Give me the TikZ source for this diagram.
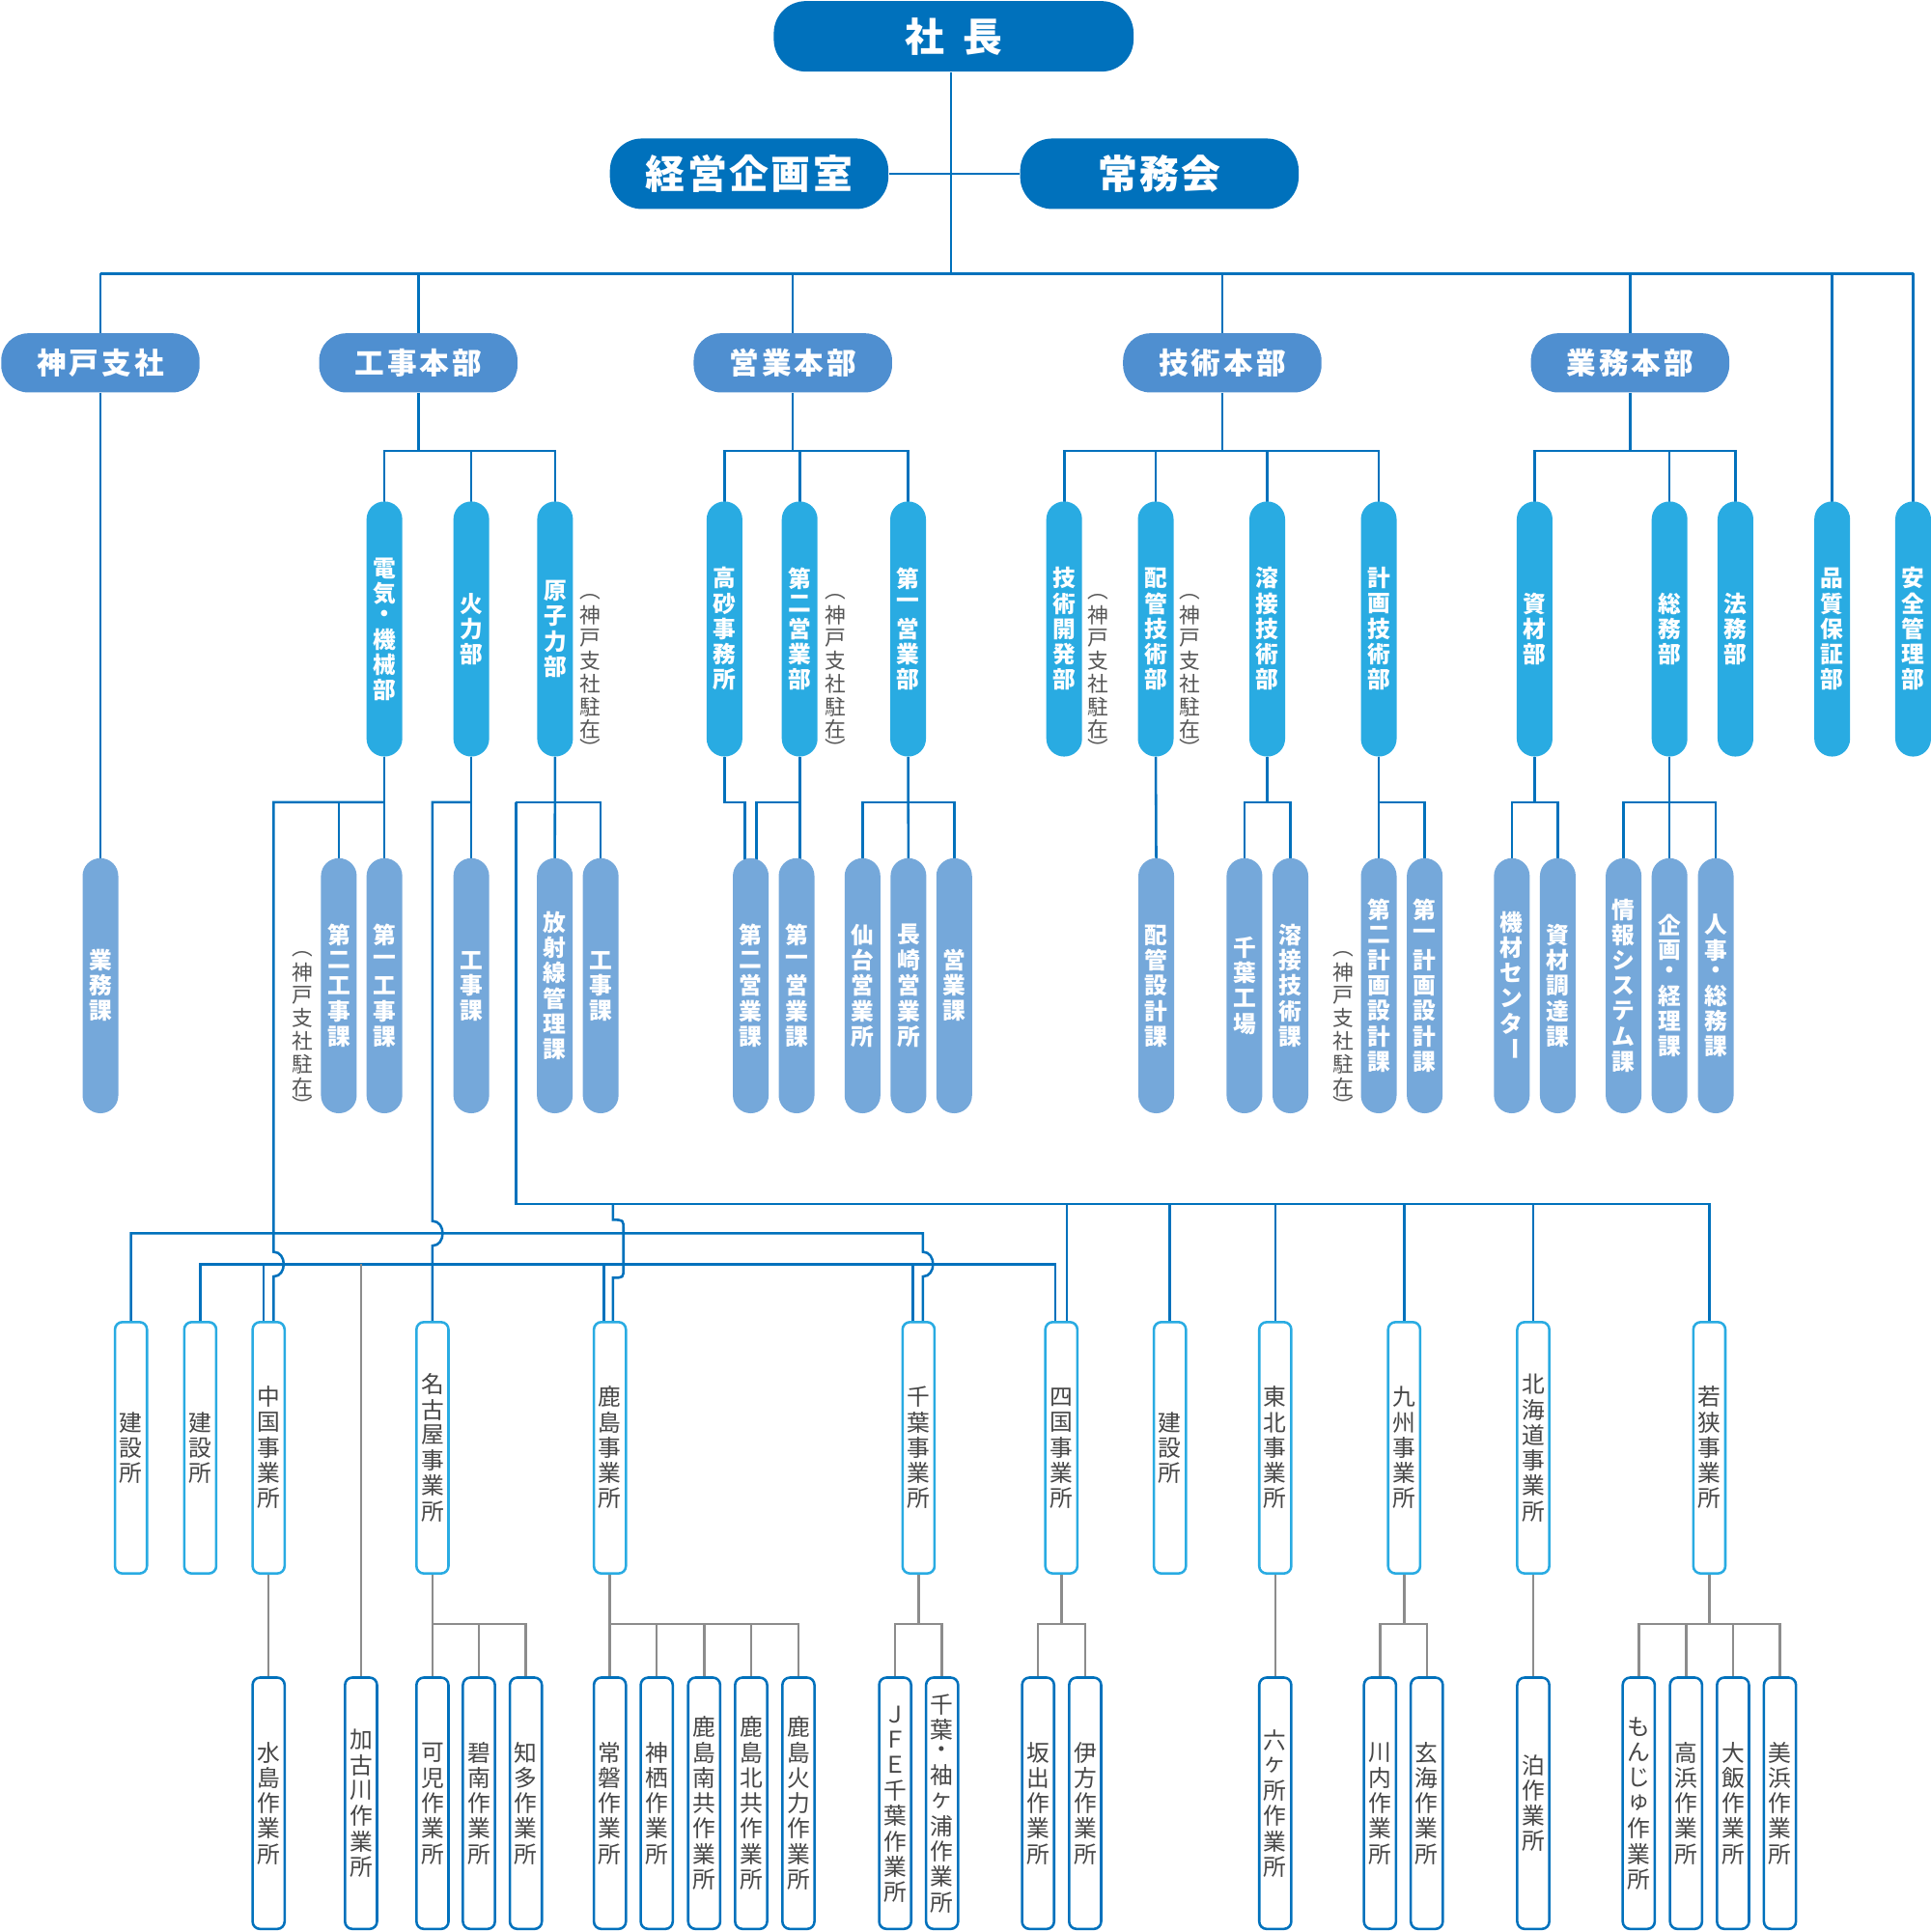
\documentclass[tikz,border=0pt]{standalone}
\usepackage{fontspec}
\setmainfont{Noto Sans CJK JP}
\usepackage{graphicx}
\usetikzlibrary{calc,backgrounds}
\definecolor{cTop}{HTML}{0071BC}
\definecolor{cHQ}{HTML}{4F8FD0}
\definecolor{cDept}{HTML}{29ABE2}
\definecolor{cSect}{HTML}{75A8DA}
\definecolor{cGray}{HTML}{8C8C8C}
\definecolor{cTxt}{HTML}{464646}
\definecolor{cNote}{HTML}{555555}
\makeatletter
\newdimen\vtcellh
\def\vtstop{\vtstop}
\newcommand\myvtext[3]{\vbox{\offinterlineskip\vtcellh=#1\relax\def\vt@small{#2}\vt@loop#3\vtstop}}
\def\vt@loop#1{\ifx\vtstop#1\else\vt@cell{#1}\expandafter\vt@loop\fi}
\def\vt@cell#1{%
  \def\vt@f{1}%
  \ifx・#1\def\vt@f{0.8}\fi
  \ifx︵#1\def\vt@f{\vt@small}\fi
  \ifx︶#1\def\vt@f{\vt@small}\fi
  \vbox to \vt@f\vtcellh{\vss\hbox to 1.3em{\hss#1\hss}\vss}}
\def\hs@loop#1{\ifx\vtstop#1\kern-\hs@gap\else#1\kern\hs@gap\expandafter\hs@loop\fi}
\newcommand\hsp[2]{\def\hs@gap{#1}\hs@loop#2\vtstop}
\makeatother
\newcommand\chouon{\rotatebox[origin=c]{-90}{ー}}
\newcommand\vlab[1]{\myvtext{10.3pt}{0.6}{#1}}
\newcommand\vnote[1]{\myvtext{9.3pt}{0.6}{#1}}
\tikzset{
 topbox/.style={fill=cTop, rounded corners=13pt, minimum width=146pt, minimum height=28.6pt, inner sep=0pt, text=white, font=\fontsize{16}{18}\selectfont\bfseries},
 hqbox/.style={fill=cHQ, rounded corners=11pt, minimum width=80.5pt, minimum height=24pt, inner sep=0pt, text=white, font=\fontsize{12}{14}\selectfont\bfseries},
 deptbox/.style={fill=cDept, rounded corners=7.2pt, minimum width=14.5pt, minimum height=103.5pt, inner sep=0pt, text=white, font=\fontsize{9.3}{10}\selectfont\bfseries},
 sectbox/.style={deptbox, fill=cSect},
 sitebox/.style={draw=cDept, fill=white, line width=1pt, rounded corners=3pt, minimum width=13pt, minimum height=102pt, inner sep=0pt, text=cTxt, font=\fontsize{9.3}{10}\selectfont},
 workbox/.style={sitebox, draw=cTop},
 note/.style={inner sep=0pt, text=cNote, font=\fontsize{8.5}{9}\selectfont},
 conn/.style={draw=cTop, line width=1pt},
 gconn/.style={draw=cGray, line width=1pt},
}
\begin{document}
\begin{tikzpicture}[x=0.5pt,y=-0.5pt]
\useasboundingbox (0,0) rectangle (1567,1568);
% ---- top
\node[topbox] (shacho) at (774,29.5) {社\kern7.5pt長};
\node[topbox, minimum width=113pt] (keiei) at (608,141) {\hsp{1pt}{経営企画室}};
\node[topbox, minimum width=113pt] (jomu) at (941,141) {\hsp{1pt}{常務会}};
% ---- level 2
\node[hqbox] (kobe) at (81.5,294.5) {\hsp{1.2pt}{神戸支社}};
\node[hqbox] (koji) at (339.5,294.5) {\hsp{1.2pt}{工事本部}};
\node[hqbox] (eigyo) at (643.5,294.5) {\hsp{1.2pt}{営業本部}};
\node[hqbox] (gijutsu) at (992,294.5) {\hsp{1.2pt}{技術本部}};
\node[hqbox] (gyomu) at (1323,294.5) {\hsp{1.2pt}{業務本部}};
% ---- level 3
\node[deptbox] (denki) at (312,510.5) {\vlab{電気・機械部}};
\node[deptbox] (karyoku) at (382.5,510.5) {\vlab{火力部}};
\node[deptbox] (genshi) at (450.5,510.5) {\vlab{原子力部}};
\node[deptbox] (takasago) at (588,510.5) {\vlab{高砂事務所}};
\node[deptbox] (eigyo2) at (649,510.5) {\vlab{第二営業部}};
\node[deptbox] (eigyo1) at (737,510.5) {\vlab{第一営業部}};
\node[deptbox] (kaihatsu) at (863.7,510.5) {\vlab{技術開発部}};
\node[deptbox] (haikan) at (938,510.5) {\vlab{配管技術部}};
\node[deptbox] (yosetsu) at (1028.5,510.5) {\vlab{溶接技術部}};
\node[deptbox] (keikaku) at (1119,510.5) {\vlab{計画技術部}};
\node[deptbox] (shizai) at (1245.5,510.5) {\vlab{資材部}};
\node[deptbox] (somu) at (1355,510.5) {\vlab{総務部}};
\node[deptbox] (homu) at (1408.5,510.5) {\vlab{法務部}};
\node[deptbox] (hinshitsu) at (1487,510.5) {\vlab{品質保証部}};
\node[deptbox] (anzen) at (1552.7,510.5) {\vlab{安全管理部}};
% ---- level 4
\node[sectbox] (gyomuka) at (81.5,800) {\vlab{業務課}};
\node[sectbox] (koji2) at (275,800) {\vlab{第二工事課}};
\node[sectbox] (koji1) at (312,800) {\vlab{第一工事課}};
\node[sectbox] (kojika) at (382.5,800) {\vlab{工事課}};
\node[sectbox] (hosha) at (450.3,800) {\vlab{放射線管理課}};
\node[sectbox] (kojikb) at (487.5,800) {\vlab{工事課}};
\node[sectbox] (eika2) at (609.3,800) {\vlab{第二営業課}};
\node[sectbox] (eika1) at (646.5,800) {\vlab{第一営業課}};
\node[sectbox] (sendai) at (700,800) {\vlab{仙台営業所}};
\node[sectbox] (nagasaki) at (737.3,800) {\vlab{長崎営業所}};
\node[sectbox] (eigyoka) at (774.4,800) {\vlab{営業課}};
\node[sectbox] (haikansekkei) at (938.4,800) {\vlab{配管設計課}};
\node[sectbox] (chibakojo) at (1010,800) {\vlab{千葉工場}};
\node[sectbox] (yosetsuka) at (1047.3,800) {\vlab{溶接技術課}};
\node[sectbox] (keikaku2) at (1119,800) {\vlab{第二計画設計課}};
\node[sectbox] (keikaku1) at (1156.3,800) {\vlab{第一計画設計課}};
\node[sectbox] (kizai) at (1227,800) {\vlab{機材センタ\chouon}};
\node[sectbox] (chotatsu) at (1264.3,800) {\vlab{資材調達課}};
\node[sectbox] (joho) at (1317.7,800) {\vlab{情報システム課}};
\node[sectbox] (kikaku) at (1355,800) {\vlab{企画・経理課}};
\node[sectbox] (jinji) at (1392.5,800) {\vlab{人事・総務課}};
% ---- notes
\node[note, anchor=south] (n1) at (479,613) {\vnote{︵神戸支社駐在︶}};
\node[note, anchor=south] (n2) at (678,613) {\vnote{︵神戸支社駐在︶}};
\node[note, anchor=south] (n3) at (891,613) {\vnote{︵神戸支社駐在︶}};
\node[note, anchor=south] (n4) at (965.5,613) {\vnote{︵神戸支社駐在︶}};
\node[note, anchor=south] (n5) at (245.5,903) {\vnote{︵神戸支社駐在︶}};
\node[note, anchor=south] (n6) at (1090,903) {\vnote{︵神戸支社駐在︶}};
% ---- level 5
\node[sitebox] (ken1) at (106.3,1175) {\vlab{建設所}};
\node[sitebox] (ken2) at (162.5,1175) {\vlab{建設所}};
\node[sitebox] (chugoku) at (218,1175) {\vlab{中国事業所}};
\node[sitebox] (nagoya) at (351,1175) {\vlab{名古屋事業所}};
\node[sitebox] (kashima) at (495,1175) {\vlab{鹿島事業所}};
\node[sitebox] (chiba) at (745.5,1175) {\vlab{千葉事業所}};
\node[sitebox] (shikoku) at (861.4,1175) {\vlab{四国事業所}};
\node[sitebox] (ken3) at (949.5,1175) {\vlab{建設所}};
\node[sitebox] (tohoku) at (1035,1175) {\vlab{東北事業所}};
\node[sitebox] (kyushu) at (1139.6,1175) {\vlab{九州事業所}};
\node[sitebox] (hokkaido) at (1244.4,1175) {\vlab{北海道事業所}};
\node[sitebox] (wakasa) at (1387.3,1175) {\vlab{若狭事業所}};
% ---- level 6
\node[workbox] (mizushima) at (218,1463.5) {\vlab{水島作業所}};
\node[workbox] (kakogawa) at (293,1463.5) {\vlab{加古川作業所}};
\node[workbox] (kani) at (351,1463.5) {\vlab{可児作業所}};
\node[workbox] (hekinan) at (388.7,1463.5) {\vlab{碧南作業所}};
\node[workbox] (chita) at (426.8,1463.5) {\vlab{知多作業所}};
\node[workbox] (joban) at (495,1463.5) {\vlab{常磐作業所}};
\node[workbox] (kamisu) at (533,1463.5) {\vlab{神栖作業所}};
\node[workbox] (kminami) at (571.5,1463.5) {\vlab{鹿島南共作業所}};
\node[workbox] (kkita) at (609.6,1463.5) {\vlab{鹿島北共作業所}};
\node[workbox] (kkaryoku) at (648,1463.5) {\vlab{鹿島火力作業所}};
\node[workbox] (jfe) at (726.5,1463.5) {\vlab{ＪＦＥ千葉作業所}};
\node[workbox] (sode) at (764.6,1463.5) {\vlab{千葉・袖ヶ浦作業所}};
\node[workbox] (sakaide) at (842.5,1463.5) {\vlab{坂出作業所}};
\node[workbox] (ikata) at (880.7,1463.5) {\vlab{伊方作業所}};
\node[workbox] (rokkasho) at (1035,1463.5) {\vlab{六ヶ所作業所}};
\node[workbox] (sendaiw) at (1120,1463.5) {\vlab{川内作業所}};
\node[workbox] (genkai) at (1158,1463.5) {\vlab{玄海作業所}};
\node[workbox] (tomari) at (1244.4,1463.5) {\vlab{泊作業所}};
\node[workbox] (monju) at (1330,1463.5) {\vlab{もんじゅ作業所}};
\node[workbox] (takahama) at (1368.4,1463.5) {\vlab{高浜作業所}};
\node[workbox] (ohi) at (1406.5,1463.5) {\vlab{大飯作業所}};
\node[workbox] (mihama) at (1444.6,1463.5) {\vlab{美浜作業所}};
% ---- connectors
\begin{scope}[on background layer]
\coordinate (b0) at (772,222);
\coordinate (y3) at (0,366);
\coordinate (y4) at (0,651);
\coordinate (yA) at (0,977);
\coordinate (yB) at (0,1001);
\coordinate (yC) at (0,1026);
\coordinate (yG) at (0,1318);
\draw[conn] (shacho.south -| b0) -- (b0);
\draw[conn] (keiei.east) -- (jomu.west);
\draw[conn] (kobe.north |- b0) -- (anzen.north |- b0);
\foreach \n in {kobe,koji,eigyo,gijutsu,gyomu,hinshitsu,anzen}
  \draw[conn] (\n.north |- b0) -- ($(\n.north)+(0,4)$);
% HQ -> depts
\foreach \h/\a/\b in {koji/denki/genshi,eigyo/takasago/eigyo1,gijutsu/kaihatsu/keikaku,gyomu/shizai/homu}{
  \draw[conn] (\h.south) -- (\h.south |- y3);
  \draw[conn] ($(\a.north)+(0,4)$) |- (\b.north |- y3) -- ($(\b.north)+(0,4)$);
}
\foreach \n in {karyoku,eigyo2,haikan,yosetsu,somu}
  \draw[conn] (\n.north |- y3) -- ($(\n.north)+(0,4)$);
% depts -> sections
\draw[conn] (kobe.south) -- ($(gyomuka.north)+(0,4)$);
\draw[conn] (denki.south) -- ($(koji1.north)+(0,4)$);
\draw[conn] (koji2.north |- y4) -- ($(koji2.north)+(0,4)$);
\draw[conn] (karyoku.south) -- ($(kojika.north)+(0,4)$);
\draw[conn] (genshi.south) -- ($(hosha.north)+(0,4)$);
\coordinate (gL) at (418.7,651);
\draw[conn] (gL) -| ($(kojikb.north)+(0,4)$);
\draw[conn] (takasago.south) |- ($(eika2.north |- y4)+(-4.7,0)$) -- ($(eika2.north)+(-4.7,4)$);
\draw[conn] (eigyo2.south) -- ($(eigyo2.south |- eika1.north)+(0,4)$);
\draw[conn] (eigyo2.south |- y4) -| ($(eika2.north)+(4.5,4)$);
\draw[conn] (eigyo1.south) -- ($(nagasaki.north)+(0,4)$);
\draw[conn] ($(sendai.north)+(0,4)$) |- (eigyoka.north |- y4) -- ($(eigyoka.north)+(0,4)$);
\draw[conn] (haikan.south) -- ($(haikansekkei.north)+(0,4)$);
\draw[conn] (yosetsu.south) -- (yosetsu.south |- y4);
\draw[conn] ($(chibakojo.north)+(0,4)$) |- (yosetsuka.north |- y4) -- ($(yosetsuka.north)+(0,4)$);
\draw[conn] (keikaku.south) -- ($(keikaku2.north)+(0,4)$);
\draw[conn] (keikaku.south |- y4) -| ($(keikaku1.north)+(0,4)$);
\draw[conn] (shizai.south) -- (shizai.south |- y4);
\draw[conn] ($(kizai.north)+(0,4)$) |- (chotatsu.north |- y4) -- ($(chotatsu.north)+(0,4)$);
\draw[conn] (somu.south) -- ($(kikaku.north)+(0,4)$);
\draw[conn] ($(joho.north)+(0,4)$) |- (jinji.north |- y4) -- ($(jinji.north)+(0,4)$);
% electric line (joins bus B, jumps bus C) to Chugoku
\coordinate (dL) at (222,651);
\draw[conn] (denki.south |- y4) -- (dL) -- (222,1016) .. controls (233,1016) and (233,1036) .. (222,1036) -- ($(chugoku.north)+(4,4)$);
% thermal line (jumps bus B, joins bus C) to Nagoya
\draw[conn] (karyoku.south |- y4) -- (nagoya.north |- y4) -- (351,991) .. controls (362,991) and (362,1011) .. (351,1011) -- ($(nagoya.north)+(0,4)$);
% bus B
\draw[conn] ($(ken1.north)+(0,4)$) |- (749,1001) -- (749,1016) .. controls (760,1016) and (760,1036) .. (749,1036) -- ($(chiba.north)+(3.5,4)$);
% bus C
\draw[conn] ($(ken2.north)+(0,4)$) |- ($(shikoku.north |- yC)+(-5.1,0)$) -- ($(shikoku.north)+(-5.1,4)$);
\draw[conn] ($(chugoku.north |- yC)+(-4,0)$) -- ($(chugoku.north)+(-4,4)$);
\draw[conn] ($(kashima.north |- yC)+(-5,0)$) -- ($(kashima.north)+(-5,4)$);
\draw[conn] ($(chiba.north |- yC)+(-4.5,0)$) -- ($(chiba.north)+(-4.5,4)$);
\draw[gconn] (kakogawa.north |- yC) -- ($(kakogawa.north)+(0,4)$);
% bus A (nuclear)
\draw[conn] (gL) |- (wakasa.north |- yA) -- ($(wakasa.north)+(0,4)$);
\draw[conn] ($(kashima.north |- yA)+(2.5,0)$) -- (497.5,990) .. controls (506,990) .. (506,998) -- (506,1029) .. controls (506,1037) .. (497.5,1037) -- ($(kashima.north)+(2.5,4)$);
\draw[conn] ($(shikoku.north |- yA)+(4.6,0)$) -- ($(shikoku.north)+(4.6,4)$);
\foreach \n in {ken3,tohoku,kyushu,hokkaido}
  \draw[conn] (\n.north |- yA) -- ($(\n.north)+(0,4)$);
% sites -> work sites (grey)
\draw[gconn] (chugoku.south) -- ($(mizushima.north)+(0,4)$);
\draw[gconn] (tohoku.south) -- ($(rokkasho.north)+(0,4)$);
\draw[gconn] (hokkaido.south) -- ($(tomari.north)+(0,4)$);
\foreach \s/\a/\b in {nagoya/kani/chita,kashima/joban/kkaryoku,chiba/jfe/sode,shikoku/sakaide/ikata,kyushu/sendaiw/genkai,wakasa/monju/mihama}{
  \draw[gconn] (\s.south) -- (\s.south |- yG);
  \draw[gconn] ($(\a.north)+(0,4)$) |- (\b.north |- yG) -- ($(\b.north)+(0,4)$);
}
\foreach \n in {hekinan,kamisu,kminami,kkita,takahama,ohi}
  \draw[gconn] (\n.north |- yG) -- ($(\n.north)+(0,4)$);
\end{scope}
\end{tikzpicture}
\end{document}
